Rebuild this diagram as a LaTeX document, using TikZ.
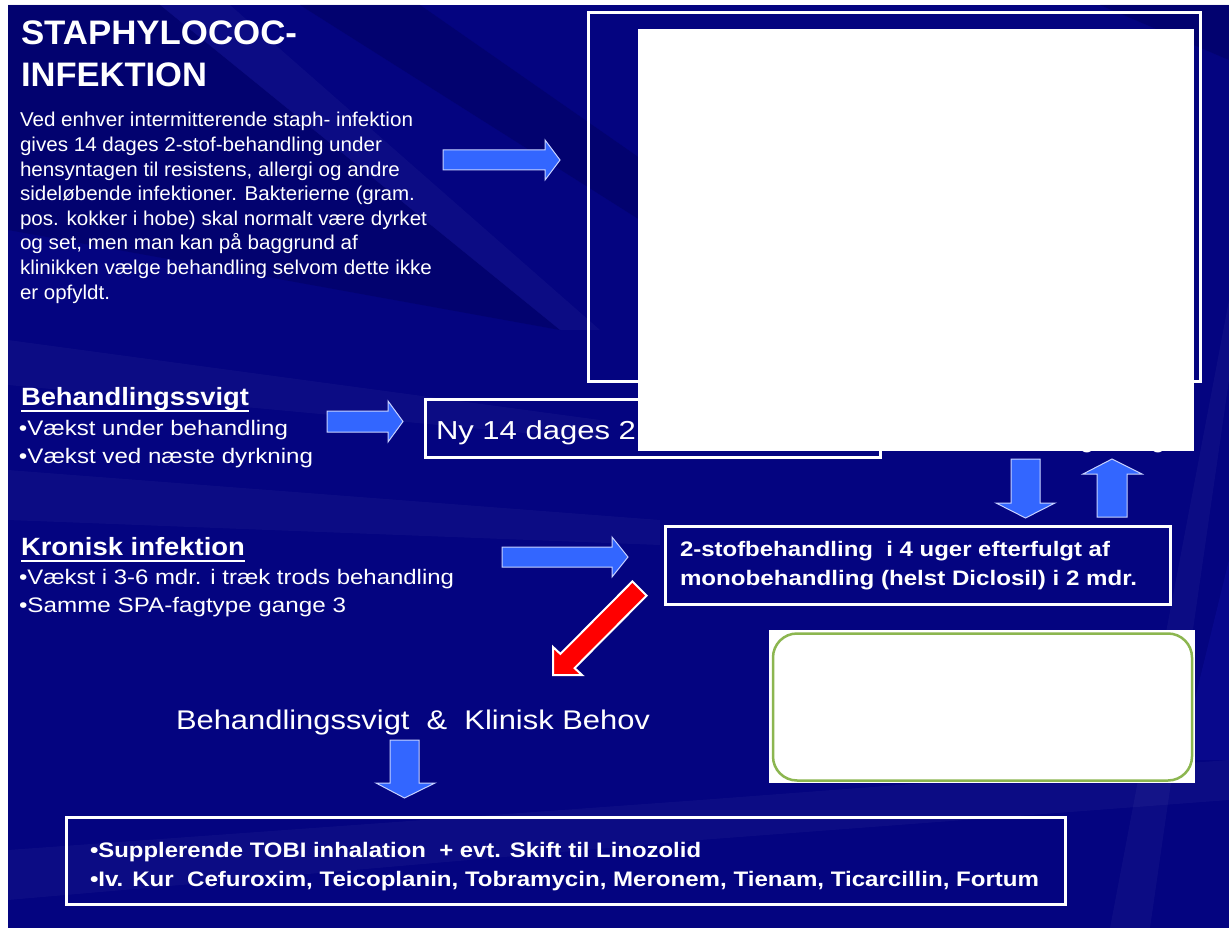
\documentclass[tikz,border=0pt]{standalone}
\usepackage{fontspec}
\setmainfont{Liberation Sans}
\usepackage{graphicx}
\definecolor{navy}{RGB}{4,4,128}
\definecolor{navydark}{RGB}{0,0,80}
\definecolor{navylight}{RGB}{20,20,170}
\definecolor{arrowblue}{RGB}{51,102,255}
\definecolor{arrowedge}{RGB}{200,210,255}
\definecolor{greenedge}{RGB}{140,182,80}
\newcommand\fitw[2]{\resizebox{#1pt}{\height}{#2}}
\begin{document}
\begin{tikzpicture}[x=1pt,y=-1pt,
  every node/.style={inner sep=0pt, outer sep=0pt, text=white},
  blockarrow/.style={fill=arrowblue, draw=arrowedge, line width=1pt, line join=miter},
  redarrow/.style={fill=red, draw=white, line width=2pt, line join=miter},
  framebox/.style={draw=white, line width=3pt},
  streak/.style={fill=white, opacity=0.035},
  darkstreak/.style={fill=navydark, opacity=0.35},
  titlef/.style={font=\fontsize{34}{40}\selectfont\bfseries},
  parf/.style={font=\fontsize{20}{24}\selectfont},
  headf/.style={font=\fontsize{25}{28}\selectfont\bfseries},
  bulf/.style={font=\fontsize{21}{26}\selectfont},
  boldf/.style={font=\fontsize{21}{28}\selectfont\bfseries},
  bigf/.style={font=\fontsize{27}{30}\selectfont}]
\useasboundingbox (0,0) rectangle (1229,928);
\fill[white] (0,0) rectangle (1229,928);
% background
\fill[navy] (8,5) rectangle (1229,928);
\begin{scope}
\clip (8,5) rectangle (1229,928);
\fill[darkstreak] (8,5) -- (160,5) -- (560,330) -- (8,230) -- cycle;
\fill[darkstreak] (300,5) -- (420,5) -- (700,200) -- (640,220) -- cycle;
\fill[darkstreak] (1100,5) -- (1229,5) -- (1229,60) -- cycle;
\fill[streak] (160,5) -- (230,5) -- (600,330) -- (560,330) -- cycle;
\fill[streak] (8,340) -- (600,420) -- (600,440) -- (8,385) -- cycle;
\fill[streak] (8,470) -- (660,520) -- (660,545) -- (8,520) -- cycle;
\fill[streak] (1229,300) -- (1229,380) -- (1150,928) -- (1110,928) -- cycle;
\fill[streak] (8,850) -- (700,800) -- (1229,760) -- (1229,800) -- (700,840) -- (8,900) -- cycle;
\fill[navylight, opacity=0.3] (1229,560) -- (1229,760) -- (1180,760) -- cycle;
\end{scope}

% title
\node[titlef, anchor=base west] (title1) at (21,45) {\fitw{276}{STAPHYLOCOC-}};
\node[titlef, anchor=base west] (title2) at (21,87) {\fitw{186}{INFEKTION}};

% paragraph
\node[parf, anchor=base west] (p1) at (20,127) {\fitw{393}{Ved enhver intermitterende staph- infektion}};
\node[parf, anchor=base west] (p2) at (20,151.6) {\fitw{362}{gives 14 dages 2-stof-behandling under}};
\node[parf, anchor=base west] (p3) at (20,176.2) {\fitw{380}{hensyntagen til resistens, allergi og andre}};
\node[parf, anchor=base west] (p4) at (20,200.8) {\fitw{395}{sideløbende infektioner. Bakterierne (gram.}};
\node[parf, anchor=base west] (p5) at (20,225.4) {\fitw{407}{pos. kokker i hobe) skal normalt være dyrket}};
\node[parf, anchor=base west] (p6) at (20,250) {\fitw{338}{og set, men man kan på baggrund af}};
\node[parf, anchor=base west] (p7) at (20,274.6) {\fitw{412}{klinikken vælge behandling selvom dette ikke}};
\node[parf, anchor=base west] (p8) at (20,299.2) {\fitw{90}{er opfyldt.}};

% arrow 1
\filldraw[blockarrow] (443,150) -- (545,150) -- (545,140) -- (560,160) -- (545,180) -- (545,170) -- (443,170) -- cycle;

% big frame at top right
\draw[framebox] (588,13) rectangle (1200,381);

% Behandlingssvigt
\node[headf, anchor=base west] (bs) at (21,405) {\fitw{228}{Behandlingssvigt}};
\draw[white, line width=2.6pt] (bs.base west) ++(0,6) -- ++(228,0);
\node[bulf, anchor=base west] (bs1) at (19,435) {\fitw{269}{•Vækst under behandling}};
\node[bulf, anchor=base west] (bs2) at (19,463) {\fitw{294}{•Vækst ved næste dyrkning}};

% arrow 2
\filldraw[blockarrow] (327,411) -- (388,411) -- (388,401) -- (403,421.5) -- (388,442) -- (388,432) -- (327,432) -- cycle;

% Ny 14 dages box
\draw[framebox] (425,399) rectangle (880,457);
\node[anchor=base west, font=\fontsize{26}{30}\selectfont] (ny) at (436,439) {\fitw{200}{Ny 14 dages 2}};
\node[anchor=base, font=\fontsize{26}{30}\selectfont] (g1) at (1087,447) {g};
\node[anchor=base, font=\fontsize{26}{30}\selectfont] (g2) at (1158,447) {g};

% white cover rectangle
\fill[white] (638,29) rectangle (1194,450.5);

% up/down arrows
\filldraw[blockarrow] (1011,459) -- (1040,459) -- (1040,503) -- (1055,503) -- (1025.5,518) -- (996,503) -- (1011,503) -- cycle;
\filldraw[blockarrow] (1097,517) -- (1127,517) -- (1127,474) -- (1142,474) -- (1112,459) -- (1083,474) -- (1097,474) -- cycle;

% 2-stof box
\draw[framebox] (665.5,526.5) rectangle (1170.5,604.5);
\node[boldf, anchor=base west] (m1) at (680,556) {\fitw{430}{2-stofbehandling\ \ i 4 uger efterfulgt af}};
\node[boldf, anchor=base west] (m2) at (680,585) {\fitw{457}{monobehandling (helst Diclosil) i 2 mdr.}};

% Kronisk infektion
\node[headf, anchor=base west] (ki) at (21,555) {\fitw{224}{Kronisk infektion}};
\draw[white, line width=2.6pt] (ki.base west) ++(0,6) -- ++(224,0);
\node[bulf, anchor=base west] (ki1) at (19,584) {\fitw{435}{•Vækst i 3-6 mdr. i træk trods behandling}};
\node[bulf, anchor=base west] (ki2) at (19,612) {\fitw{327}{•Samme SPA-fagtype gange 3}};

% arrow 3
\filldraw[blockarrow] (502,547) -- (612,547) -- (612,537) -- (628,557) -- (612,577) -- (612,567) -- (502,567) -- cycle;

% red arrow
\filldraw[redarrow] (632.4,581.4) -- (560.4,653.9) -- (553,647) -- (553,675) -- (582,675) -- (574.6,668.1) -- (646.6,595.6) -- cycle;

% Behandlingssvigt & Klinisk Behov
\node[bigf, anchor=base west] (bk) at (176,729) {\fitw{474}{Behandlingssvigt\ \ \&\ \ Klinisk Behov}};

% arrow 4
\filldraw[blockarrow] (390,740) -- (419,740) -- (419,783) -- (435,783) -- (404.5,798) -- (376,783) -- (390,783) -- cycle;

% green rounded box
\fill[white] (769,630) rectangle (1195,783);
\draw[greenedge, line width=2.5pt, rounded corners=24pt] (773,633.5) rectangle (1192,780.5);

% bottom box
\draw[framebox] (66.5,817.5) rectangle (1065.5,904.5);
\node[boldf, anchor=base west] (b1) at (90,857) {\fitw{611}{•Supplerende TOBI inhalation\ \ + evt. Skift til Linozolid}};
\node[boldf, anchor=base west] (b2) at (90,886) {\fitw{949}{•Iv. Kur\ \ Cefuroxim, Teicoplanin, Tobramycin, Meronem, Tienam, Ticarcillin, Fortum}};
\end{tikzpicture}
\end{document}
